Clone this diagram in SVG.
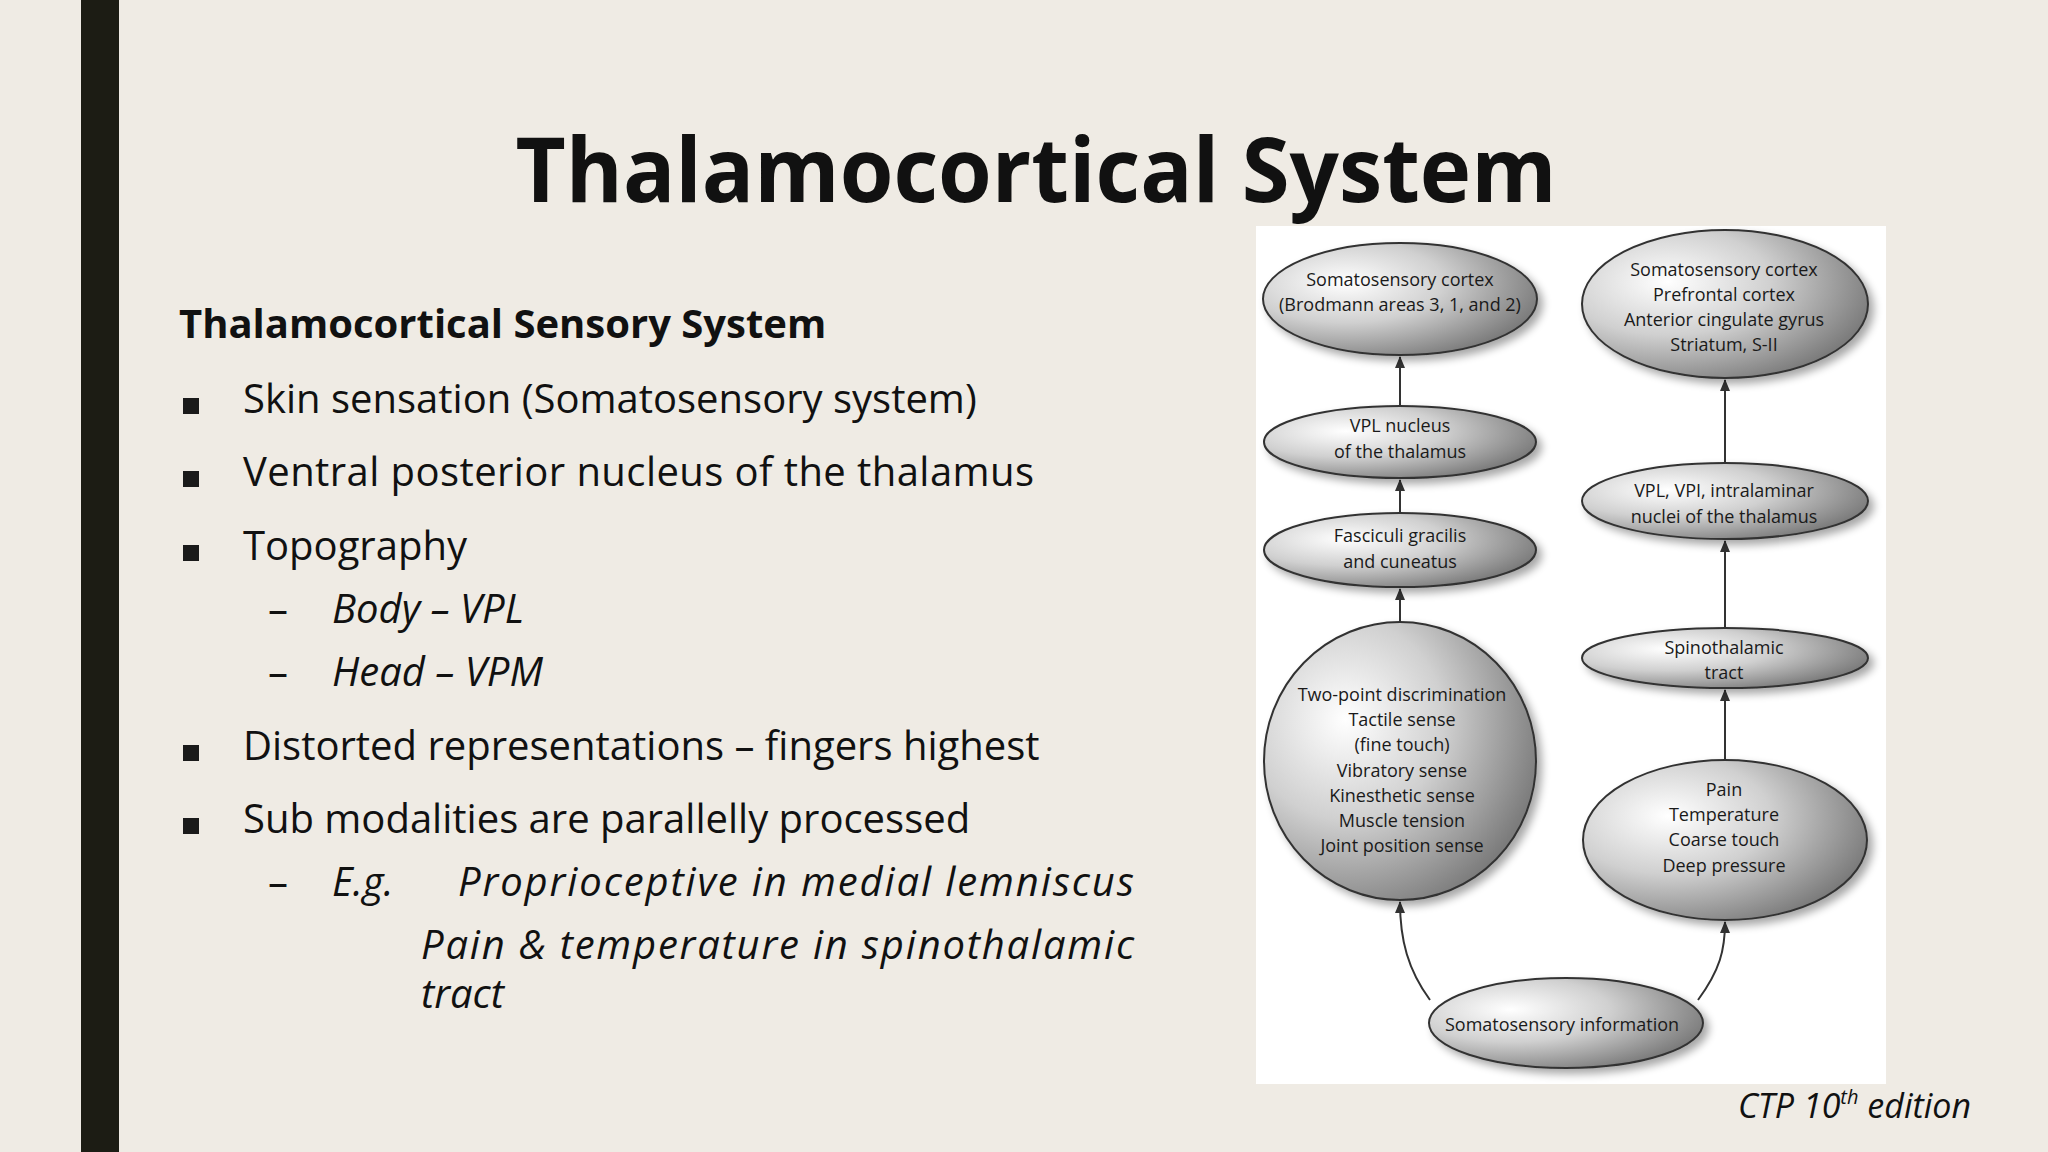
<svg xmlns="http://www.w3.org/2000/svg" width="2048" height="1152" viewBox="0 0 2048 1152">
<defs>
<radialGradient id="g" cx="0.3" cy="0.35" r="0.8">
<stop offset="0" stop-color="#ffffff"/><stop offset="0.45" stop-color="#d0d0d0"/><stop offset="1" stop-color="#6e6e6e"/>
</radialGradient>
<filter id="sh" x="-20%" y="-20%" width="150%" height="150%">
<feGaussianBlur in="SourceAlpha" stdDeviation="4"/><feOffset dx="5" dy="5" result="b"/>
<feComponentTransfer><feFuncA type="linear" slope="0.35"/></feComponentTransfer>
<feMerge><feMergeNode/><feMergeNode in="SourceGraphic"/></feMerge>
</filter>
<marker id="ar" markerWidth="12" markerHeight="16" refX="11" refY="8" orient="auto" markerUnits="userSpaceOnUse">
<path d="M0,3 L12,8 L0,13 z" fill="#333"/>
</marker>
<style>
.el{fill:url(#g);stroke:#333;stroke-width:2;filter:url(#sh)}
.nt{font-family:"Open Sans","Noto Sans",sans-serif;font-size:18px;fill:#1a1a1a;text-anchor:middle}
.bt{font-family:"Open Sans","Noto Sans",sans-serif;font-size:40px;fill:#111}
.it{font-style:italic}
.cn{stroke:#333;stroke-width:2;fill:none;marker-end:url(#ar)}
</style>
</defs>
<rect width="2048" height="1152" fill="#efebe4"/>
<rect x="81" y="0" width="38" height="1152" fill="#1c1c14"/>
<text x="1036" y="202" text-anchor="middle" font-family="'Open Sans','DejaVu Sans',sans-serif" font-weight="bold" font-size="90" fill="#111" textLength="1041" lengthAdjust="spacingAndGlyphs">Thalamocortical System</text>
<text x="179" y="338" class="bt" font-weight="bold" font-size="39">Thalamocortical Sensory System</text>
<g fill="#1a1a1a">
<rect x="183" y="398" width="16" height="16"/><rect x="183" y="471" width="16" height="16"/><rect x="183" y="545" width="16" height="16"/>
<rect x="183" y="745" width="16" height="16"/><rect x="183" y="818" width="16" height="16"/>
</g>
<text x="243" y="413" class="bt">Skin sensation (Somatosensory system)</text>
<text x="243" y="486" class="bt" textLength="791">Ventral posterior nucleus of the thalamus</text>
<text x="243" y="560" class="bt">Topography</text>
<text x="268" y="623" class="bt">–</text><text x="332" y="623" class="bt it">Body – VPL</text>
<text x="268" y="686" class="bt">–</text><text x="332" y="686" class="bt it">Head – VPM</text>
<text x="243" y="760" class="bt">Distorted representations – fingers highest</text>
<text x="243" y="833" class="bt">Sub modalities are parallelly processed</text>
<text x="268" y="896" class="bt">–</text><text x="332" y="896" class="bt it">E.g.</text><text x="458" y="896" class="bt it" textLength="676">Proprioceptive in medial lemniscus</text>
<text x="421" y="959" class="bt it" textLength="713">Pain &amp; temperature in spinothalamic</text>
<text x="421" y="1008" class="bt it">tract</text>
<text x="1971" y="1118" text-anchor="end" font-family="'Open Sans','Noto Sans',sans-serif" font-style="italic" font-size="34" fill="#111">CTP 10<tspan font-size="20" dy="-14">th</tspan><tspan dy="14"> edition</tspan></text>
<rect x="1256" y="226" width="630" height="858" fill="#ffffff"/>
<g id="connectors">
<line class="cn" x1="1400" y1="406" x2="1400" y2="357"/>
<line class="cn" x1="1400" y1="513" x2="1400" y2="480"/>
<line class="cn" x1="1400" y1="622" x2="1400" y2="589"/>
<line class="cn" x1="1725" y1="463" x2="1725" y2="380"/>
<line class="cn" x1="1725" y1="628" x2="1725" y2="541"/>
<line class="cn" x1="1725" y1="760" x2="1725" y2="690"/>
<path class="cn" d="M1430,1000 C1408,970 1400,940 1400,902"/>
<path class="cn" d="M1698,1000 C1720,970 1725,950 1725,922"/>
</g>
<g id="n1"><ellipse class="el" cx="1400" cy="299" rx="137" ry="56"/>
<text class="nt" x="1400" y="286">Somatosensory cortex</text><text class="nt" x="1400" y="311">(Brodmann areas 3, 1, and 2)</text></g>
<g id="n2"><ellipse class="el" cx="1400" cy="442" rx="136" ry="36"/>
<text class="nt" x="1400" y="432">VPL nucleus</text><text class="nt" x="1400" y="458">of the thalamus</text></g>
<g id="n3"><ellipse class="el" cx="1400" cy="550" rx="136" ry="37"/>
<text class="nt" x="1400" y="542">Fasciculi gracilis</text><text class="nt" x="1400" y="568">and cuneatus</text></g>
<g id="n4"><ellipse class="el" cx="1400" cy="761" rx="136" ry="139"/>
<text class="nt" x="1402" y="701">Two-point discrimination</text><text class="nt" x="1402" y="726">Tactile sense</text><text class="nt" x="1402" y="751">(fine touch)</text><text class="nt" x="1402" y="777">Vibratory sense</text><text class="nt" x="1402" y="802">Kinesthetic sense</text><text class="nt" x="1402" y="827">Muscle tension</text><text class="nt" x="1402" y="852">Joint position sense</text></g>
<g id="r1"><ellipse class="el" cx="1725" cy="304" rx="143" ry="74"/>
<text class="nt" x="1724" y="276">Somatosensory cortex</text><text class="nt" x="1724" y="301">Prefrontal cortex</text><text class="nt" x="1724" y="326">Anterior cingulate gyrus</text><text class="nt" x="1724" y="351">Striatum, S-II</text></g>
<g id="r2"><ellipse class="el" cx="1725" cy="501" rx="143" ry="38"/>
<text class="nt" x="1724" y="497">VPL, VPI, intralaminar</text><text class="nt" x="1724" y="523">nuclei of the thalamus</text></g>
<g id="r3"><ellipse class="el" cx="1725" cy="658" rx="143" ry="30"/>
<text class="nt" x="1724" y="654">Spinothalamic</text><text class="nt" x="1724" y="679">tract</text></g>
<g id="r4"><ellipse class="el" cx="1725" cy="840" rx="142" ry="80"/>
<text class="nt" x="1724" y="796">Pain</text><text class="nt" x="1724" y="821">Temperature</text><text class="nt" x="1724" y="846">Coarse touch</text><text class="nt" x="1724" y="872">Deep pressure</text></g>
<g id="b"><ellipse class="el" cx="1566" cy="1023" rx="137" ry="45"/>
<text class="nt" x="1562" y="1031">Somatosensory information</text></g>
</svg>
